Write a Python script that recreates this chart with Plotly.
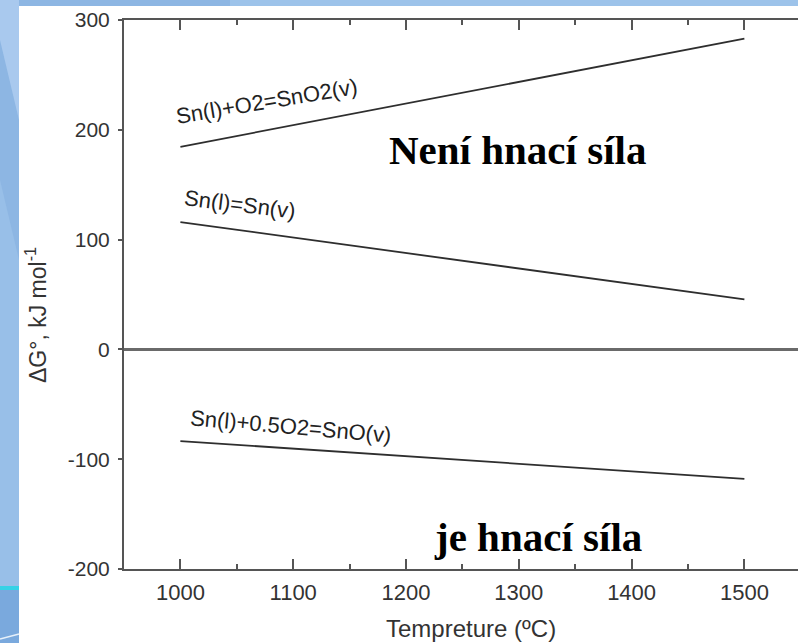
import plotly.graph_objects as go

# ---- data ----
temps = [1000, 1500]
sno2_v = [184.5, 283.0]
sn_v = [116.0, 45.5]
sno_v = [-83.5, -118.0]

series_names = ["Sn(l)+O2=SnO2(v)", "Sn(l)=Sn(v)", "Sn(l)+0.5O2=SnO(v)"]
x_tickvals = [1000, 1100, 1200, 1300, 1400, 1500]
y_tickvals = [-200, -100, 0, 100, 200, 300]
y_ticktext = ["-200", "-100", "0", "100", "200", "300"]

# ---- layout geometry (pixels) ----
W, H = 798, 643
L, R, T, B = 124, 798, 20, 569


def px(xp):
    return (xp - L) / (R - L)


def py(yp):
    return (B - yp) / (B - T)


fig = go.Figure()
for vals in (sno2_v, sn_v, sno_v):
    fig.add_trace(go.Scatter(x=temps, y=vals, mode="lines",
                             line=dict(color="#2e2e2e", width=1.8),
                             showlegend=False, hoverinfo="skip"))

label_font = dict(family="Liberation Sans, Arial", size=22, color="#222")
bold_font = dict(family="Liberation Serif, Times New Roman", size=41, color="#000")
annotations = [
    dict(x=1076, y=226, xref="x", yref="y", text=series_names[0],
         textangle=-9.5, showarrow=False, font=label_font, xanchor="center", yanchor="middle"),
    dict(x=1053, y=132, xref="x", yref="y", text=series_names[1],
         textangle=7, showarrow=False, font=label_font, xanchor="center", yanchor="middle"),
    dict(x=1098, y=-69.8, xref="x", yref="y", text=series_names[2],
         textangle=5, showarrow=False, font=label_font, xanchor="center", yanchor="middle"),
    dict(x=px(517), y=py(150), xref="paper", yref="paper", text="<b>Není hnací síla</b>",
         showarrow=False, font=bold_font, xanchor="center", yanchor="middle"),
    dict(x=px(538), y=py(537), xref="paper", yref="paper", text="<b>je hnací síla</b>",
         showarrow=False, font=bold_font, xanchor="center", yanchor="middle"),
    dict(x=px(471), y=py(628), xref="paper", yref="paper", text="Tempreture (ºC)",
         showarrow=False, font=dict(family="Liberation Sans, Arial", size=24, color="#333"),
         xanchor="center", yanchor="middle"),
    dict(x=px(36), y=py(315), xref="paper", yref="paper", text="ΔG°, kJ mol<sup>-1</sup>",
         textangle=-90, showarrow=False, font=dict(family="Liberation Sans, Arial", size=23, color="#333"),
         xanchor="center", yanchor="middle"),
]

shapes = [
    dict(type="rect", xref="paper", yref="paper", x0=px(19), x1=px(800), y0=py(6), y1=py(645),
         fillcolor="white", line=dict(width=0), layer="below"),
    dict(type="rect", xref="paper", yref="paper", x0=px(230), x1=px(800), y0=py(-2), y1=py(6),
         fillcolor="#9dc3ea", line=dict(width=0), layer="below"),
    dict(type="path", xref="paper", yref="paper",
         path=f"M {px(0)},{py(-2)} L {px(19)},{py(-2)} L {px(19)},{py(120)} L {px(0)},{py(40)} Z",
         fillcolor="#a9c9ee", line=dict(width=0), layer="below"),
    dict(type="path", xref="paper", yref="paper",
         path=f"M {px(0)},{py(180)} L {px(19)},{py(260)} L {px(19)},{py(586)} L {px(0)},{py(586)} Z",
         fillcolor="#98bfe8", line=dict(width=0), layer="below"),
    dict(type="rect", xref="paper", yref="paper", x0=px(-2), x1=px(19), y0=py(590), y1=py(645),
         fillcolor="#7aa9dd", line=dict(width=0), layer="below"),
    dict(type="rect", xref="paper", yref="paper", x0=px(-2), x1=px(19), y0=py(586), y1=py(590),
         fillcolor="#36d2e6", line=dict(width=0), layer="below"),
    dict(type="line", xref="paper", yref="paper", x0=px(0), x1=px(19), y0=py(639), y1=py(634),
         line=dict(color="#e6f0fa", width=1.5), layer="below"),
]

fig.update_layout(
    width=W, height=H,
    margin=dict(l=L, r=W - R, t=T, b=H - B, pad=0),
    paper_bgcolor="#8db6e3",
    plot_bgcolor="white",
    annotations=annotations,
    shapes=shapes,
    showlegend=False,
)

fig.update_xaxes(
    range=[950, 950 + (R - L) / 1.128], tickvals=x_tickvals,
    ticks="inside", ticklen=10, tickwidth=2, tickcolor="#555",
    minor=dict(dtick=50, ticks="inside", ticklen=5, tickwidth=2, tickcolor="#555"),
    showline=True, linecolor="#555", linewidth=2, mirror="ticks",
    showgrid=False, zeroline=False,
    tickfont=dict(family="Liberation Sans, Arial", size=22, color="#333"),
    ticklabelstandoff=3,
)
fig.update_yaxes(
    range=[-200, 300], tickvals=y_tickvals, ticktext=y_ticktext,
    ticks="outside", ticklen=4, tickwidth=2, tickcolor="#555",
    showline=True, linecolor="#555", linewidth=2, mirror=False,
    showgrid=False, zeroline=True, zerolinecolor="#6a6a6a", zerolinewidth=2.5,
    tickfont=dict(family="Liberation Sans, Arial", size=21, color="#333"),
    ticklabelstandoff=4,
)

fig.write_html("out.html")
